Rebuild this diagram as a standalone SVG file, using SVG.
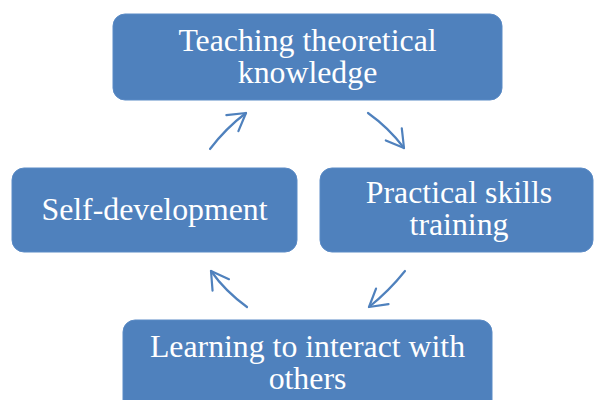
<svg xmlns="http://www.w3.org/2000/svg" width="594" height="400" viewBox="0 0 594 400">
<style>
.box{fill:#4F81BD;stroke:#5B8BC6;stroke-width:1}
.lbl{font-family:"Liberation Serif","Times New Roman",serif;font-size:31.8px;fill:#FFFFFF;text-anchor:middle}
.arr{fill:none;stroke:#4F81BD;stroke-width:2.2;stroke-linecap:round;marker-end:url(#ah)}
</style>
<defs>
<marker id="ah" markerUnits="userSpaceOnUse" markerWidth="24" markerHeight="24" viewBox="-20 -12 24 24" refX="0" refY="0" orient="auto">
<path d="M-17,-10 L0,0 L-17,10" fill="none" stroke="#4F81BD" stroke-width="2.2" stroke-linecap="round" stroke-linejoin="round"/>
</marker>
</defs>
<rect width="594" height="400" fill="#FFFFFF"/>
<g id="connectors">
<path class="arr" d="M210,149 Q226,128 246,113"/>
<path class="arr" d="M368,113 Q389,128 404,148"/>
<path class="arr" d="M405,271 Q389,291 369,307"/>
<path class="arr" d="M247,307 Q225,291 211,271"/>
</g>
<g id="node-teaching">
<rect class="box" x="113" y="14" width="389" height="86" rx="12"/>
<text class="lbl" x="307.5" y="51">Teaching theoretical</text>
<text class="lbl" x="307.5" y="83">knowledge</text>
</g>
<g id="node-self">
<rect class="box" x="12" y="168" width="285" height="84" rx="12"/>
<text class="lbl" x="154.5" y="220">Self-development</text>
</g>
<g id="node-practical">
<rect class="box" x="320" y="168" width="273" height="84" rx="12"/>
<text class="lbl" x="459" y="203">Practical skills</text>
<text class="lbl" x="459" y="235">training</text>
</g>
<g id="node-learning">
<rect class="box" x="123" y="320" width="369" height="100" rx="12"/>
<text class="lbl" x="307.5" y="357">Learning to interact with</text>
<text class="lbl" x="307.5" y="389">others</text>
</g>
</svg>
